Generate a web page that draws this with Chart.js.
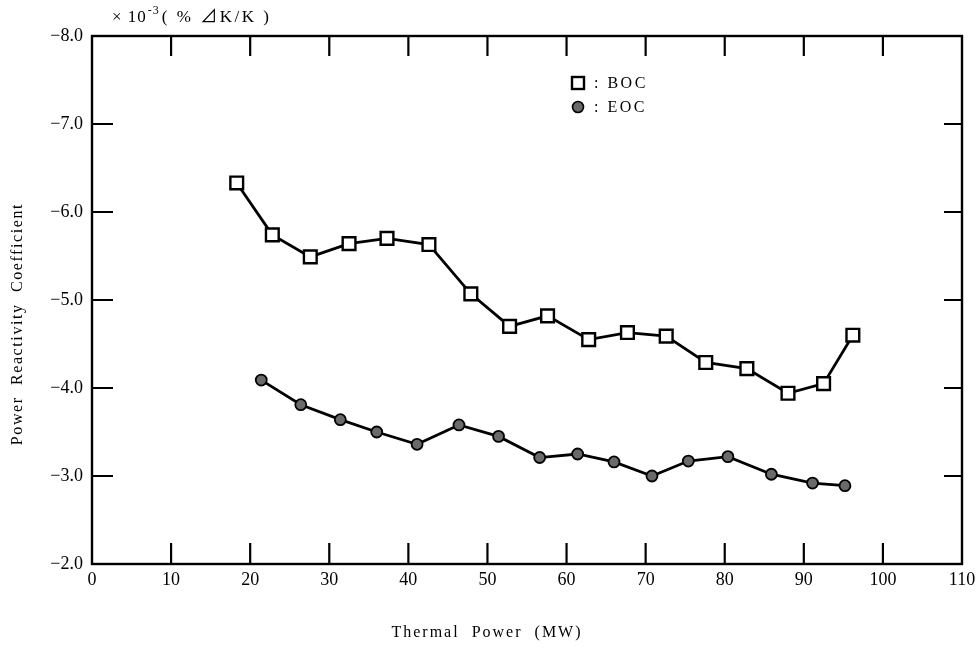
<!DOCTYPE html>
<html lang="en">
<head>
    <meta charset="UTF-8">
    <title>Power Reactivity Coefficient</title>
    <style>
        html, body { margin: 0; padding: 0; background: #fff; }
        #wrap { width: 977px; height: 650px; }
    </style>
</head>
<body>
<div id="wrap">
    <canvas id="chart"></canvas>
</div>

<script src="https://cdn.jsdelivr.net/npm/chart.js"></script>
<script>
    // values
    const bocPower = [18.3, 22.8, 27.6, 32.5, 37.3, 42.6, 47.9, 52.8, 57.6, 62.8, 67.7, 72.6, 77.6, 82.8, 88.0, 92.5, 96.2]
    const bocCoef = [-6.33, -5.74, -5.49, -5.64, -5.70, -5.63, -5.07, -4.70, -4.82, -4.55, -4.63, -4.59, -4.29, -4.22, -3.94, -4.05, -4.60]
    const eocPower = [21.4, 26.4, 31.4, 36.0, 41.1, 46.4, 51.4, 56.6, 61.4, 66.0, 70.8, 75.4, 80.4, 85.9, 91.1, 95.2]
    const eocCoef = [-4.09, -3.81, -3.64, -3.50, -3.36, -3.58, -3.45, -3.21, -3.25, -3.16, -3.00, -3.17, -3.22, -3.02, -2.92, -2.89]
    const xTicks = [0, 10, 20, 30, 40, 50, 60, 70, 80, 90, 100, 110]
    const yTicks = [-8, -7, -6, -5, -4, -3, -2]

    const serif = "'Liberation Serif', 'DejaVu Serif', 'Noto Sans CJK JP', serif"

    function toPoints(xs, ys) {
        return xs.map((x, i) => ({x: x, y: ys[i]}))
    }

    // frame, inside tick marks, titles and the in-plot key
    const decorations = {
        id: 'decorations',
        afterDraw(chart) {
            const ctx = chart.ctx
            const a = chart.chartArea
            const xs = chart.scales.x
            const ys = chart.scales.y
            ctx.save()
            ctx.strokeStyle = '#000'
            ctx.lineWidth = 2.4
            ctx.strokeRect(a.left, a.top, a.right - a.left, a.bottom - a.top)

            ctx.lineWidth = 2.2
            ctx.beginPath()
            xTicks.slice(1, -1).forEach(v => {
                const px = xs.getPixelForValue(v)
                ctx.moveTo(px, a.top); ctx.lineTo(px, a.top + 20)
                ctx.moveTo(px, a.bottom); ctx.lineTo(px, a.bottom - 21)
            })
            yTicks.slice(1, -1).forEach(v => {
                const py = ys.getPixelForValue(v)
                ctx.moveTo(a.left, py); ctx.lineTo(a.left + 21, py)
                ctx.moveTo(a.right, py); ctx.lineTo(a.right - 18, py)
            })
            ctx.stroke()

            ctx.fillStyle = '#000'
            ctx.textBaseline = 'middle'

            // unit label above the y axis
            ctx.font = '17px ' + serif
            ctx.textAlign = 'left'
            ctx.letterSpacing = '1px'
            ctx.fillText('× 10', 112, 18)
            let w = ctx.measureText('× 10').width
            ctx.font = '12px ' + serif
            ctx.fillText('-3', 112 + w + 1, 11)
            let w2 = ctx.measureText('-3').width
            ctx.font = '17px ' + serif
            ctx.letterSpacing = '2.5px'
            ctx.fillText('( % ⊿K/K )', 112 + w + w2 + 3, 18)

            // x title
            ctx.font = '16px ' + serif
            ctx.letterSpacing = '2px'
            ctx.textAlign = 'center'
            ctx.fillText('Thermal  Power  (MW)', 487, 633)

            // y title
            ctx.save()
            ctx.translate(18, 324)
            ctx.rotate(-Math.PI / 2)
            ctx.letterSpacing = '1.6px'
            ctx.fillText('Power  Reactivity  Coefficient', 0, 0)
            ctx.restore()

            // key
            ctx.letterSpacing = '2.5px'
            ctx.textAlign = 'left'
            ctx.font = '16px ' + serif
            ctx.lineWidth = 2.4
            ctx.fillStyle = '#fff'
            ctx.fillRect(572, 77, 12, 12)
            ctx.strokeRect(572, 77, 12, 12)
            ctx.fillStyle = '#000'
            ctx.fillText(': BOC', 594, 84)
            ctx.beginPath()
            ctx.arc(578, 107, 5.5, 0, Math.PI * 2)
            ctx.fillStyle = '#6a6a6a'
            ctx.fill()
            ctx.lineWidth = 1.6
            ctx.stroke()
            ctx.fillStyle = '#000'
            ctx.fillText(': EOC', 594, 108)
            ctx.restore()
        }
    }

    const chart = new Chart(document.getElementById('chart'), {
        type: 'scatter',
        data: {
            datasets: [
                {
                    label: 'BOC',
                    data: toPoints(bocPower, bocCoef),
                    showLine: true,
                    borderColor: '#000',
                    borderWidth: 2.8,
                    pointStyle: 'rect',
                    pointRadius: 9,
                    pointBorderWidth: 2.4,
                    pointBackgroundColor: '#fff',
                    pointBorderColor: '#000',
                },
                {
                    label: 'EOC',
                    data: toPoints(eocPower, eocCoef),
                    showLine: true,
                    borderColor: '#000',
                    borderWidth: 2.8,
                    pointStyle: 'circle',
                    pointRadius: 5.5,
                    pointBorderWidth: 1.8,
                    pointBackgroundColor: '#6a6a6a',
                    pointBorderColor: '#000',
                }
            ]
        },
        options: {
            responsive: true,
            maintainAspectRatio: false,
            animation: false,
            layout: {
                padding: {left: 0, top: 36, right: 15, bottom: 0}
            },
            plugins: {
                legend: {display: false},
                tooltip: {enabled: false}
            },
            scales: {
                x: {
                    type: 'linear',
                    min: 0,
                    max: 110,
                    afterBuildTicks: scale => { scale.ticks = xTicks.map(v => ({value: v})) },
                    afterFit: scale => {
                        scale.height = 86
                        scale.paddingLeft = 0
                        scale.paddingRight = 0
                    },
                    grid: {display: false, drawTicks: false},
                    border: {display: false},
                    ticks: {
                        padding: 5,
                        color: '#000',
                        font: {family: serif, size: 18},
                        maxRotation: 0,
                    }
                },
                y: {
                    type: 'linear',
                    min: -8,
                    max: -2,
                    reverse: true,
                    afterBuildTicks: scale => { scale.ticks = yTicks.map(v => ({value: v})) },
                    afterFit: scale => { scale.width = 92 },
                    grid: {display: false, drawTicks: false},
                    border: {display: false},
                    ticks: {
                        padding: 9,
                        color: '#000',
                        font: {family: serif, size: 18},
                        callback: v => '−' + Math.abs(v).toFixed(1)
                    }
                }
            }
        },
        plugins: [decorations]
    });
</script>
</body>
</html>
